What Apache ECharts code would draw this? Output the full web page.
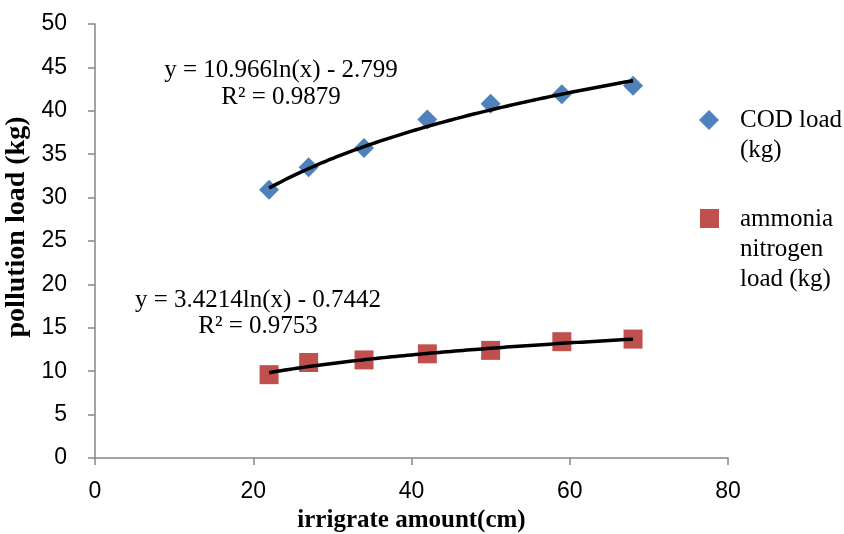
<!DOCTYPE html>
<html>
<head>
<meta charset="utf-8">
<script src="https://cdn.jsdelivr.net/npm/echarts@6/dist/echarts.min.js"></script>
<style>html,body{margin:0;padding:0;background:#fff}#chart{width:844px;height:534px}</style>
</head>
<body>
<div id="chart"></div>
<script>
// irrigate amount (cm)
var irrigation = [22, 27, 34, 42, 50, 59, 68];
// COD load (kg)
var codLoad = [30.9, 33.5, 35.7, 39.0, 40.8, 41.9, 42.9];
// ammonia nitrogen load (kg)
var nh3Load = [9.6, 11.0, 11.3, 12.0, 12.4, 13.4, 13.7];
// logarithmic trendline coefficients shown on the chart: y = a*ln(x) + b
var codTrend = [10.966, -2.799];
var nh3Trend = [3.4214, -0.7442];
var xTicks = [0, 20, 40, 60, 80];
var yTicks = [0, 5, 10, 15, 20, 25, 30, 35, 40, 45, 50];
var codEq = ['y = 10.966ln(x) - 2.799', 'R² = 0.9879'];
var nh3Eq = ['y = 3.4214ln(x) - 0.7442', 'R² = 0.9753'];
var legendNames = ['COD load\n(kg)', 'ammonia\nnitrogen\nload (kg)'];

function pairs(xs, ys) { return xs.map(function (x, i) { return [x, ys[i]]; }); }
function trend(coef) {
  var out = [];
  var x0 = irrigation[0], x1 = irrigation[irrigation.length - 1];
  for (var x = x0; x <= x1 + 1e-9; x += 1) out.push([x, coef[0] * Math.log(x) + coef[1]]);
  return out;
}

var chart = echarts.init(document.getElementById('chart'));
var axisCol = '#868686';
var serif = '"Liberation Serif", "Times New Roman", serif';
var sans = '"Liberation Sans", Arial, sans-serif';

chart.setOption({
  animation: false,
  backgroundColor: '#fff',
  grid: { left: 95, right: 116, top: 24, bottom: 76, containLabel: false, outerBoundsMode: 'none' },
  xAxis: {
    type: 'value', min: xTicks[0], max: xTicks[xTicks.length - 1], interval: 20,
    name: 'irrigrate amount(cm)', nameLocation: 'middle', nameGap: 49,
    nameTextStyle: { fontFamily: serif, fontWeight: 'bold', fontSize: 25, color: '#000' },
    axisLine: { lineStyle: { color: axisCol, width: 1.5 } },
    axisTick: { show: true, length: 7, lineStyle: { color: axisCol, width: 1.5 } },
    axisLabel: { margin: 22, fontFamily: sans, fontSize: 23, color: '#000' },
    splitLine: { show: false }
  },
  yAxis: {
    type: 'value', min: yTicks[0], max: yTicks[yTicks.length - 1], interval: 5,
    name: 'pollution load (kg)', nameLocation: 'middle', nameGap: 50,
    nameTextStyle: { fontFamily: serif, fontWeight: 'bold', fontSize: 28, color: '#000', padding: [0, 0, 0, 28] },
    axisLine: { show: true, lineStyle: { color: axisCol, width: 1.5 } },
    axisTick: { show: true, length: 7, lineStyle: { color: axisCol, width: 1.5 } },
    axisLabel: { margin: 28, fontFamily: sans, fontSize: 23, color: '#000' },
    splitLine: { show: false }
  },
  series: [
    { name: 'COD load (kg)', type: 'scatter', symbol: 'diamond', symbolSize: 20,
      itemStyle: { color: '#4F81BD', opacity: 1 }, data: pairs(irrigation, codLoad), z: 2 },
    { name: 'ammonia nitrogen load (kg)', type: 'scatter', symbol: 'rect', symbolSize: 19,
      itemStyle: { color: '#C0504D', opacity: 1 }, data: pairs(irrigation, nh3Load), z: 2 },
    { name: 'COD trend', type: 'line', smooth: true, showSymbol: false, silent: true,
      lineStyle: { color: '#000', width: 3.5 }, data: trend(codTrend), z: 3 },
    { name: 'NH3 trend', type: 'line', smooth: true, showSymbol: false, silent: true,
      lineStyle: { color: '#000', width: 3.5 }, data: trend(nh3Trend), z: 3 }
  ],
  graphic: [
    { type: 'text', x: 281, y: 57, style: { text: codEq.join('\n'), align: 'center', verticalAlign: 'top',
      font: '25px ' + serif, fill: '#000', lineHeight: 27 } },
    { type: 'text', x: 258, y: 287, style: { text: nh3Eq.join('\n'), align: 'center', verticalAlign: 'top',
      font: '25px ' + serif, fill: '#000', lineHeight: 26 } },
    { type: 'polygon', shape: { points: [[709, 110], [719, 120], [709, 130], [699, 120]] }, style: { fill: '#4F81BD' } },
    { type: 'text', left: 740, top: 105, style: { text: legendNames[0], font: '25px ' + serif, fill: '#000', lineHeight: 30 } },
    { type: 'rect', shape: { x: 700, y: 209, width: 19, height: 19 }, style: { fill: '#C0504D' } },
    { type: 'text', left: 740, top: 204, style: { text: legendNames[1], font: '25px ' + serif, fill: '#000', lineHeight: 30 } }
  ]
});
</script>
</body>
</html>
